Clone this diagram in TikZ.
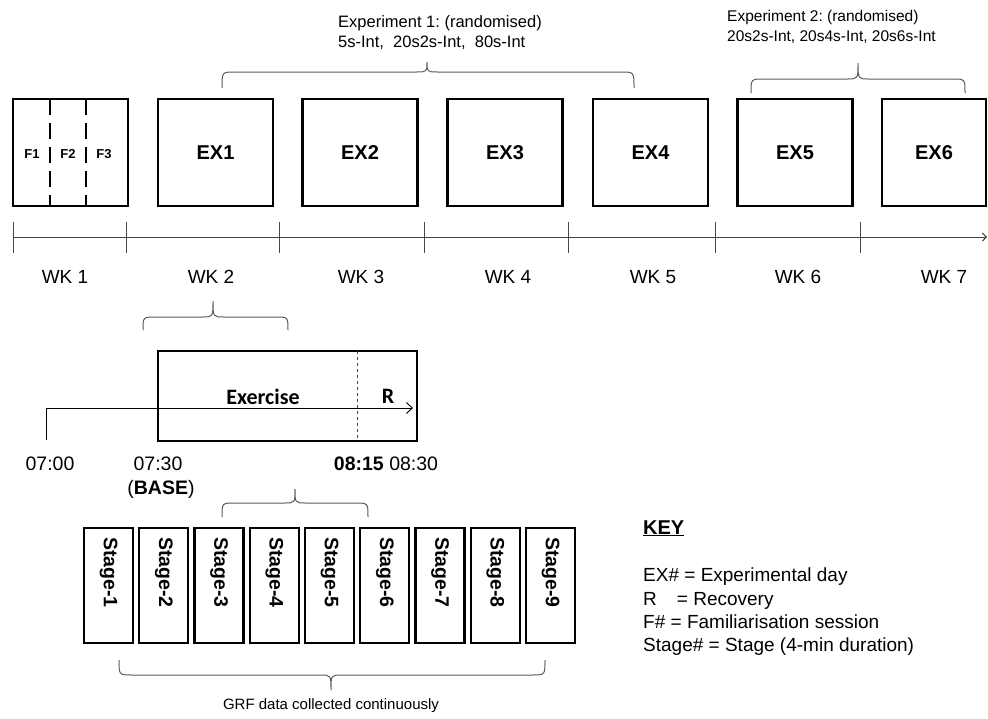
\documentclass[tikz,border=0pt]{standalone}
\usepackage{fontspec}
\setmainfont{Liberation Sans}
\newfontfamily\calibfont{Carlito}
\usetikzlibrary{arrows.meta}
\definecolor{lineg}{RGB}{70,70,70}
\definecolor{braceg}{RGB}{90,90,90}
\newcommand{\fsz}[2]{\fontsize{#1}{#2}\selectfont}
% brace: x1, x2, y-end, y-flat, y-tip, x-tip
\newcommand{\mybrace}[6]{%
  \draw[bracestyle] (#1,#3) .. controls (#1,#4) .. (#1+13,#4) -- (#6-11,#4)
    .. controls (#6,#4) .. (#6,#5) .. controls (#6,#4) .. (#6+11,#4)
    -- (#2-13,#4) .. controls (#2,#4) .. (#2,#3);}
\frenchspacing
\begin{document}
\begin{tikzpicture}[x=1pt,y=-1pt,
  daybox/.style={draw, line width=2.6pt, inner sep=0pt, minimum width=115pt,
    minimum height=107pt, font=\fsz{20}{24}\bfseries},
  stagebox/.style={draw, line width=2.4pt, rotate=-90, minimum width=115pt,
    minimum height=49pt, text width=97pt, align=left, inner xsep=9pt,
    font=\fsz{19.5}{23}\bfseries},
  tl/.style={draw=lineg, line width=0.9pt},
  bracestyle/.style={draw=braceg, line width=1pt},
  wk/.style={font=\fsz{19}{23}},
  tm/.style={font=\fsz{19.5}{23}},
  fl/.style={font=\fsz{13}{15}\bfseries, inner sep=0pt, anchor=base},
  fdash/.style={line width=2pt, dash pattern=on 16pt off 8pt}]
\useasboundingbox (0,0) rectangle (988,718);

% --- top row of days ---
\node[daybox] (fam) at (70.5,152.5) {};
\node[daybox] (ex1) at (215.5,152.5) {EX1};
\node[daybox] (ex2) at (360,152.5) {EX2};
\node[daybox] (ex3) at (505,152.5) {EX3};
\node[daybox] (ex4) at (650.5,152.5) {EX4};
\node[daybox] (ex5) at (795,152.5) {EX5};
\node[daybox, minimum width=104pt] (ex6) at (934,152.5) {EX6};
\draw[fdash] (50,99) -- (50,206);
\draw[fdash] (86,99) -- (86,206);
\node[fl] (f1) at (32,158) {F1};
\node[fl] (f2) at (68,158) {F2};
\node[fl] (f3) at (104,158) {F3};

% --- experiment braces ---
\mybrace{222}{634}{88}{72}{62}{427}
\mybrace{751}{965}{93}{79}{63}{858}
\node[anchor=north west, inner sep=0pt, align=left, font=\fsz{16.5}{20}] (exp1) at (338,15)
  {Experiment 1: (randomised)\\5s-Int,\ \ 20s2s-Int,\ \ 80s-Int};
\node[anchor=north west, inner sep=0pt, align=left, font=\fsz{15.5}{20}] (exp2) at (727,10)
  {Experiment 2: (randomised)\\20s2s-Int, 20s4s-Int, 20s6s-Int};

% --- weeks timeline ---
\coordinate (t0) at (13,237);
\coordinate (tend) at (987,237);
\draw[tl, -{Straight Barb[length=4pt,width=8pt]}] (t0) -- (tend);
\foreach \x in {13,126,279,424,568,715,860}
  \draw[tl] (\x,222) -- (\x,253);
\node[wk] (wk1) at (65,277) {WK 1};
\node[wk] (wk2) at (211,277) {WK 2};
\node[wk] (wk3) at (361,277) {WK 3};
\node[wk] (wk4) at (508,277) {WK 4};
\node[wk] (wk5) at (653,277) {WK 5};
\node[wk] (wk6) at (798,277) {WK 6};
\node[wk] (wk7) at (944,277) {WK 7};

% --- exercise day ---
\mybrace{143}{288}{330}{317}{301}{213}
\node[draw, line width=2.8pt, minimum width=259pt, minimum height=90pt, inner sep=0pt] (exbox) at (287.5,396) {};
\draw[draw=lineg, line width=0.9pt, dashed] (357,351) -- (357,441);
\coordinate (a0) at (46,440);
\coordinate (a1) at (413,408);
\draw[draw=black, line width=0.9pt, -{Straight Barb[length=6pt,width=11pt]}] (a0) |- (a1);
\node[font=\fsz{22}{26}\calibfont\bfseries] (exlbl) at (263,397) {Exercise};
\node[font=\fsz{22}{26}\calibfont\bfseries] (rlbl) at (388,396) {R};
\node[tm] (t700) at (50,464) {07:00};
\node[tm] (t730) at (158,464) {07:30};
\node[tm] (t815) at (386,464) {\textbf{08:15} 08:30};
\node[tm] (base) at (161,489) {(\textbf{BASE})};

% --- stages ---
\mybrace{222}{368}{517}{503}{489}{295}
\foreach \i in {1,...,9}
  \node[stagebox] (s\i) at ({84+24.5+(\i-1)*55.25},585.5) {Stage-\i};
\draw[bracestyle] (119,660) .. controls (119,675) .. (132,675) -- (320,675)
   .. controls (331,675) .. (331,690) .. controls (331,675) .. (342,675)
   -- (532,675) .. controls (545,675) .. (545,660);
\node[font=\fsz{15}{18}] (grf) at (331,706) {GRF data collected continuously};

% --- key ---
\node[anchor=base west, inner sep=0pt, font=\fsz{20}{24}\bfseries] (key) at (643,534) {\underline{KEY}};
\node[anchor=north west, inner sep=0pt, align=left, font=\fsz{19}{23.3}] (keytxt) at (643,568)
  {EX\# = Experimental day\\R\hspace{20pt}= Recovery\\F\# = Familiarisation session\\Stage\# = Stage (4-min duration)};
\end{tikzpicture}
\end{document}
